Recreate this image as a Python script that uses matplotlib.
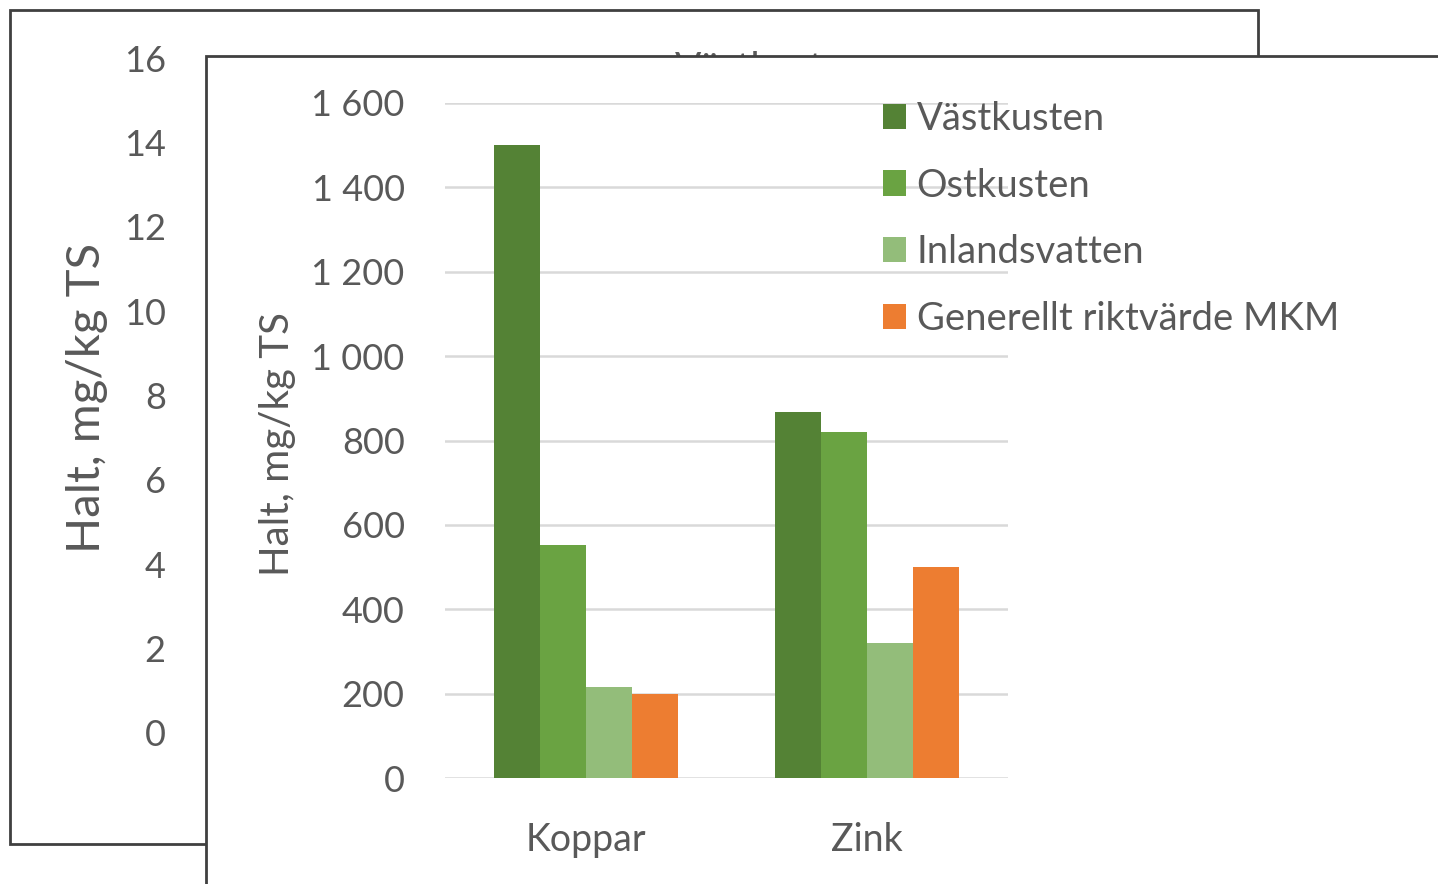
"""Two overlapping Excel-style charts: a hidden 0-16 chart behind and a
bar chart of Koppar/Zink contents in front."""
import matplotlib

matplotlib.use("Agg")
import matplotlib.pyplot as plt
from matplotlib.patches import Rectangle
import numpy as np

W, H = 1438, 884

# front chart data
categories = ["Koppar", "Zink"]
series = ["Västkusten", "Ostkusten", "Inlandsvatten", "Generellt riktvärde MKM"]
vastkusten = [1500, 867]
ostkusten = [553, 820]
inlandsvatten = [216, 320]
riktvarde = [200, 500]
colors = ["#548235", "#6aa342", "#93bd7a", "#ed7d31"]
front_ticks = [0, 200, 400, 600, 800, 1000, 1200, 1400, 1600]
front_ticklabels = ["0", "200", "400", "600", "800", "1 000", "1 200", "1 400", "1 600"]

# back chart (mostly hidden)
back_ticks = [0, 2, 4, 6, 8, 10, 12, 14, 16]
back_title = "Västkusten"

ylabel = "Halt, mg/kg TS"
TXT = "#595959"
FONT = "Lato"

plt.rcParams["font.family"] = [FONT, "DejaVu Sans"]


def fx(px):
    return px / W


def fy(py):
    return 1 - py / H


fig = plt.figure(figsize=(W / 100, H / 100), dpi=100)

# back frame
fig.patches.append(Rectangle((fx(10), fy(844)), fx(1258) - fx(10), fy(10) - fy(844),
                             transform=fig.transFigure, facecolor="white",
                             edgecolor="#404040", lw=2, zorder=0))

# back axes
ax0 = fig.add_axes([fx(206), fy(733), fx(1008) - fx(206), fy(58) - fy(733)])
ax0.set_ylim(0, 16)
ax0.set_xlim(0, 1)
ax0.set_yticks(back_ticks)
ax0.tick_params(axis="y", length=0, pad=29, labelsize=26, labelcolor=TXT)
ax0.tick_params(axis="x", bottom=False, labelbottom=False)
for s in ax0.spines.values():
    s.set_visible(False)
ax0.patch.set_alpha(0)
ax0.set_zorder(1)
fig.text(fx(87), fy(398), ylabel, rotation=90, ha="center", va="center",
         fontsize=34, color=TXT, zorder=1)
# title of the back chart, almost fully covered by the front chart
fig.text(fx(770), fy(80.5), back_title, ha="center", va="baseline",
         fontsize=28, color=TXT, zorder=1)

# front frame covering the back chart
front = Rectangle((fx(206), fy(900)), fx(1460) - fx(206), fy(56) - fy(900),
                  transform=fig.transFigure, facecolor="white",
                  edgecolor="#404040", lw=2, zorder=2)
fig.patches.append(front)

# front axes
ax = fig.add_axes([fx(445), fy(778), fx(1008) - fx(445), fy(103) - fy(778)])
ax.set_zorder(3)
ax.patch.set_alpha(0)
x = np.arange(len(categories))
bw = 0.163
values = [vastkusten, ostkusten, inlandsvatten, riktvarde]
for i, (name, vals, c) in enumerate(zip(series, values, colors)):
    ax.bar(x + (i - 1.5) * bw, vals, bw, color=c, label=name, zorder=3)

ax.set_xlim(-0.5, 1.5)
ax.set_ylim(0, 1600)
ax.set_yticks(front_ticks)
ax.set_yticklabels(front_ticklabels)
ax.set_xticks(x)
ax.set_xticklabels(categories)
ax.yaxis.grid(True, color="#d9d9d9", lw=1.8, zorder=0)
ax.set_axisbelow(True)
ax.tick_params(axis="y", length=0, pad=29, labelsize=26, labelcolor=TXT)
ax.tick_params(axis="x", length=0, pad=32, labelsize=27, labelcolor=TXT)
for s in ax.spines.values():
    s.set_visible(False)

fig.text(fx(277), fy(444), ylabel, rotation=90, ha="center", va="center",
         fontsize=29, color=TXT, zorder=4)

leg = ax.legend(loc="upper left", bbox_to_anchor=(fx(883), fy(101)),
                bbox_transform=fig.transFigure, frameon=False, fontsize=27.5,
                handlelength=0.6, handleheight=0.65, handletextpad=0.28,
                labelspacing=0.8, borderpad=0, borderaxespad=0,
                labelcolor=TXT)
leg.set_zorder(5)

fig.savefig("out.png", dpi=100)
